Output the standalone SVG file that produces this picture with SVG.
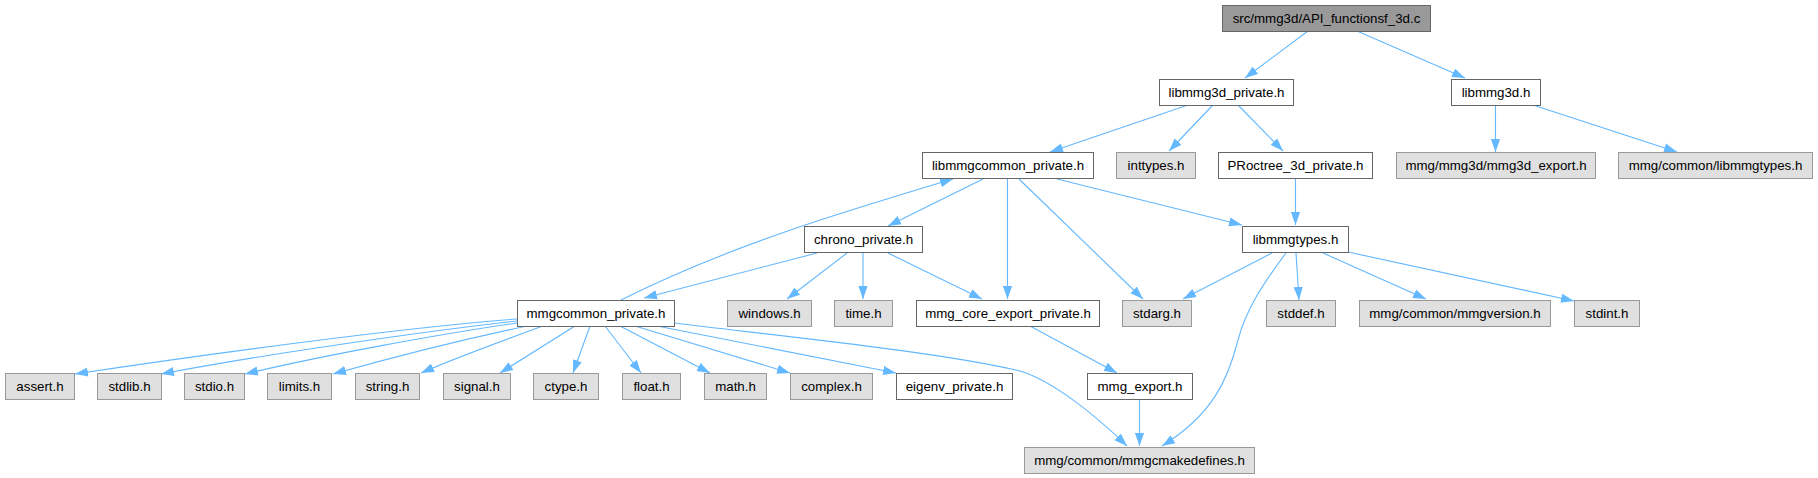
<svg xmlns="http://www.w3.org/2000/svg" width="1818" height="478" viewBox="0 0 1818 478">
<defs>
<style>
.n rect{stroke-width:1}
.w rect{fill:#ffffff;stroke:#666666}
.g rect{fill:#e0e0e0;stroke:#999999}
.r rect{fill:#999999;stroke:#666666}
text{font-family:"Liberation Sans",Arial,Helvetica,sans-serif;font-size:13.3px;fill:#000000;text-anchor:middle}
#edges path{fill:none;stroke:#63b8ff;stroke-width:1.1;marker-end:url(#ah)}
</style>
<marker id="ah" markerUnits="userSpaceOnUse" markerWidth="13" markerHeight="10" viewBox="0 0 13 10" refX="13" refY="5" orient="auto">
<path d="M0,0.4 L13,5 L0,9.6 z" fill="#63b8ff"/>
</marker>
</defs>
<rect width="1818" height="478" fill="#ffffff"/>
<g id="edges">
<path d="M1308,31 L1245,78"/>
<path d="M1357,31 L1465,78"/>
<path d="M1188,105 L1050,152"/>
<path d="M1213,105 L1169,151"/>
<path d="M1238,105 L1283,151"/>
<path d="M1495.5,105 L1495.5,152"/>
<path d="M1533,105 L1677,152"/>
<path d="M983,179 L888,226"/>
<path d="M1007.5,179 L1007.5,299"/>
<path d="M1019,179 L1143,299"/>
<path d="M1057,179 L1242,225"/>
<path d="M621,300 C731,245 843,212 953,179"/>
<path d="M1295.5,179 L1295.5,225"/>
<path d="M817,253 L644,298"/>
<path d="M847,253 L787,299"/>
<path d="M863,253 L863,299"/>
<path d="M888,253 L982,299"/>
<path d="M1272,253 L1183,299"/>
<path d="M1296,253 L1299,300"/>
<path d="M1323,253 L1426,299"/>
<path d="M1348,252 L1574,301"/>
<path d="M1286,253 C1262,285 1246,310 1238,340 C1228,380 1212,415 1162,446"/>
<path d="M517,319 C400,328 200,355 75,374"/>
<path d="M517,321 C420,332 260,355 161,374"/>
<path d="M517,323 C440,334 320,356 245,374"/>
<path d="M527,326 C470,338 390,358 333,374"/>
<path d="M543,326 C510,338 460,356 421,373"/>
<path d="M575,326 L500,373"/>
<path d="M590,326 L573,373"/>
<path d="M605,326 L641,373"/>
<path d="M620,326 L710,373"/>
<path d="M635,326 L790,373"/>
<path d="M657,326 L896,373"/>
<path d="M674,323 C780,336 940,352 1020,371 C1050,380 1090,410 1127,446"/>
<path d="M1030,326 L1117,373"/>
<path d="M1139.5,400 L1139.5,446"/>
</g>
<g id="n_root" class="n r"><rect x="1222.5" y="5.5" width="208" height="26"/><text x="1326.5" y="23">src/mmg3d/API_functionsf_3d.c</text></g>
<g id="n_libmmg3d_private" class="n w"><rect x="1159.5" y="79.5" width="134" height="26"/><text x="1226.5" y="97">libmmg3d_private.h</text></g>
<g id="n_libmmg3d" class="n w"><rect x="1451.5" y="79.5" width="89" height="26"/><text x="1496" y="97">libmmg3d.h</text></g>
<g id="n_libmmgcommon_private" class="n w"><rect x="922.5" y="152.5" width="171" height="26"/><text x="1008" y="170">libmmgcommon_private.h</text></g>
<g id="n_inttypes" class="n g"><rect x="1116.5" y="152.5" width="79" height="26"/><text x="1156" y="170">inttypes.h</text></g>
<g id="n_proctree" class="n w"><rect x="1218.5" y="152.5" width="154" height="26"/><text x="1295.5" y="170">PRoctree_3d_private.h</text></g>
<g id="n_mmg3d_export" class="n g"><rect x="1396.5" y="152.5" width="199" height="26"/><text x="1496" y="170">mmg/mmg3d/mmg3d_export.h</text></g>
<g id="n_common_libmmgtypes" class="n g"><rect x="1618.5" y="152.5" width="194" height="26"/><text x="1715.5" y="170">mmg/common/libmmgtypes.h</text></g>
<g id="n_chrono" class="n w"><rect x="804.5" y="226.5" width="118" height="26"/><text x="863.5" y="244">chrono_private.h</text></g>
<g id="n_libmmgtypes" class="n w"><rect x="1242.5" y="226.5" width="106" height="26"/><text x="1295.5" y="244">libmmgtypes.h</text></g>
<g id="n_mmgcommon_private" class="n w"><rect x="517.5" y="300.5" width="157" height="26"/><text x="596" y="318">mmgcommon_private.h</text></g>
<g id="n_windows" class="n g"><rect x="727.5" y="300.5" width="84" height="26"/><text x="769.5" y="318">windows.h</text></g>
<g id="n_time" class="n g"><rect x="834.5" y="300.5" width="58" height="26"/><text x="863.5" y="318">time.h</text></g>
<g id="n_core_export" class="n w"><rect x="916.5" y="300.5" width="183" height="26"/><text x="1008" y="318">mmg_core_export_private.h</text></g>
<g id="n_stdarg" class="n g"><rect x="1122.5" y="300.5" width="69" height="26"/><text x="1157" y="318">stdarg.h</text></g>
<g id="n_stddef" class="n g"><rect x="1266.5" y="300.5" width="69" height="26"/><text x="1301" y="318">stddef.h</text></g>
<g id="n_mmgversion" class="n g"><rect x="1359.5" y="300.5" width="191" height="26"/><text x="1455" y="318">mmg/common/mmgversion.h</text></g>
<g id="n_stdint" class="n g"><rect x="1574.5" y="300.5" width="65" height="26"/><text x="1607" y="318">stdint.h</text></g>
<g id="n_assert" class="n g"><rect x="5.5" y="373.5" width="69" height="26"/><text x="40" y="391">assert.h</text></g>
<g id="n_stdlib" class="n g"><rect x="97.5" y="373.5" width="64" height="26"/><text x="129.5" y="391">stdlib.h</text></g>
<g id="n_stdio" class="n g"><rect x="184.5" y="373.5" width="60" height="26"/><text x="214.5" y="391">stdio.h</text></g>
<g id="n_limits" class="n g"><rect x="267.5" y="373.5" width="64" height="26"/><text x="299.5" y="391">limits.h</text></g>
<g id="n_string" class="n g"><rect x="355.5" y="373.5" width="64" height="26"/><text x="387.5" y="391">string.h</text></g>
<g id="n_signal" class="n g"><rect x="443.5" y="373.5" width="67" height="26"/><text x="477" y="391">signal.h</text></g>
<g id="n_ctype" class="n g"><rect x="533.5" y="373.5" width="65" height="26"/><text x="566" y="391">ctype.h</text></g>
<g id="n_float" class="n g"><rect x="622.5" y="373.5" width="58" height="26"/><text x="651.5" y="391">float.h</text></g>
<g id="n_math" class="n g"><rect x="704.5" y="373.5" width="62" height="26"/><text x="735.5" y="391">math.h</text></g>
<g id="n_complex" class="n g"><rect x="790.5" y="373.5" width="82" height="26"/><text x="831.5" y="391">complex.h</text></g>
<g id="n_eigenv" class="n w"><rect x="896.5" y="373.5" width="116" height="26"/><text x="954.5" y="391">eigenv_private.h</text></g>
<g id="n_mmg_export" class="n w"><rect x="1087.5" y="373.5" width="105" height="26"/><text x="1140" y="391">mmg_export.h</text></g>
<g id="n_cmakedefines" class="n g"><rect x="1024.5" y="447.5" width="230" height="26"/><text x="1139.5" y="465">mmg/common/mmgcmakedefines.h</text></g>
</svg>
